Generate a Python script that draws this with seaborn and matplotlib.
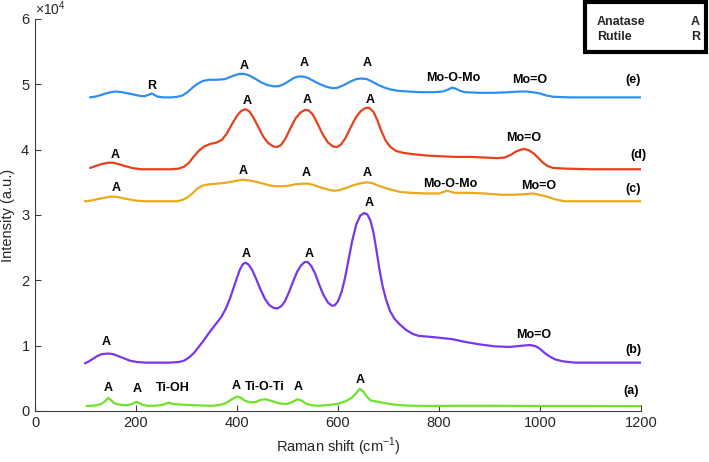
import numpy as np
import pandas as pd
import matplotlib.pyplot as plt
import seaborn as sns
from matplotlib.ticker import ScalarFormatter
from matplotlib.patches import Rectangle

# Raman spectra (intensity in units of 1e4)
x_a = [102, 112, 122, 132, 140, 145, 150, 157, 165, 175, 185, 193, 200, 205, 212, 222,
       235, 250, 258, 265, 272, 285, 310, 330, 350, 365, 378, 390, 399, 406, 415, 426,
       438, 447, 456, 466, 478, 490, 500, 510, 520, 528, 537, 548, 560, 580, 600, 615,
       627, 636, 643, 650, 657, 665, 680, 700, 720, 750, 784, 837, 900, 1000, 1200]
y_a = [0.077, 0.08, 0.09, 0.11, 0.16, 0.20, 0.17, 0.12, 0.10, 0.09, 0.09, 0.11, 0.14, 0.13, 0.10, 0.08,
       0.08, 0.09, 0.11, 0.13, 0.11, 0.10, 0.09, 0.085, 0.08, 0.09, 0.12, 0.18, 0.22, 0.21, 0.16, 0.13,
       0.14, 0.17, 0.18, 0.16, 0.13, 0.11, 0.11, 0.14, 0.18, 0.16, 0.11, 0.09, 0.08, 0.09, 0.11, 0.15,
       0.20, 0.27, 0.34, 0.30, 0.22, 0.16, 0.14, 0.11, 0.09, 0.08, 0.077, 0.08, 0.08, 0.077, 0.075]

x_b = [99, 107, 115, 123, 132, 145, 155, 165, 175, 188, 202, 220, 240, 265, 285, 295,
       305, 315, 324, 335, 345, 357, 369, 378, 386, 393, 400, 406, 412, 417, 423, 430,
       438, 446, 455, 464, 472, 480, 487, 495, 503, 511, 519, 527, 534, 540, 547, 555,
       563, 571, 580, 588, 594, 600, 607, 614, 621, 628, 636, 644, 652, 658, 664, 670,
       676, 682, 688, 695, 703, 712, 723, 735, 748, 760, 790, 826, 850, 880, 910, 940,
       965, 980, 992, 1000, 1009, 1018, 1030, 1045, 1070, 1100, 1200]
y_b = [0.73, 0.76, 0.80, 0.84, 0.87, 0.88, 0.87, 0.84, 0.81, 0.77, 0.75, 0.74, 0.74, 0.74, 0.75, 0.77,
       0.82, 0.89, 0.98, 1.09, 1.20, 1.32, 1.44, 1.57, 1.72, 1.88, 2.04, 2.17, 2.25, 2.27, 2.24, 2.16,
       2.02, 1.87, 1.72, 1.62, 1.58, 1.57, 1.60, 1.68, 1.82, 1.98, 2.13, 2.23, 2.28, 2.28, 2.22, 2.10,
       1.93, 1.78, 1.66, 1.61, 1.62, 1.68, 1.82, 2.04, 2.32, 2.60, 2.85, 2.99, 3.03, 3.01, 2.92, 2.74,
       2.47, 2.17, 1.92, 1.71, 1.53, 1.41, 1.32, 1.24, 1.18, 1.15, 1.13, 1.10, 1.06, 1.02, 0.99, 0.98,
       1.00, 1.01, 0.99, 0.95, 0.89, 0.84, 0.79, 0.76, 0.74, 0.74, 0.74]

x_c = [99, 110, 122, 135, 148, 160, 172, 185, 200, 220, 250, 280, 292, 302, 313, 322,
       332, 345, 360, 375, 390, 403, 412, 423, 437, 452, 466, 478, 490, 503, 516, 530,
       540, 552, 566, 580, 592, 602, 615, 628, 642, 655, 667, 680, 695, 709, 725, 745,
       775, 800, 808, 815, 822, 830, 855, 890, 921, 950, 970, 986, 998, 1010, 1022, 1035,
       1050, 1100, 1200]
y_c = [3.21, 3.22, 3.24, 3.26, 3.28, 3.28, 3.26, 3.24, 3.22, 3.21, 3.21, 3.21, 3.23, 3.27, 3.34, 3.41,
       3.45, 3.47, 3.48, 3.49, 3.51, 3.53, 3.54, 3.53, 3.51, 3.48, 3.45, 3.44, 3.44, 3.45, 3.47, 3.48,
       3.48, 3.46, 3.42, 3.39, 3.37, 3.38, 3.41, 3.45, 3.48, 3.50, 3.49, 3.45, 3.41, 3.38, 3.35, 3.34,
       3.33, 3.33, 3.35, 3.37, 3.36, 3.34, 3.34, 3.33, 3.31, 3.31, 3.32, 3.33, 3.31, 3.29, 3.26, 3.23,
       3.21, 3.21, 3.21]

x_d = [109, 120, 132, 145, 155, 165, 178, 192, 210, 240, 270, 285, 295, 305, 315, 324,
       335, 348, 360, 370, 380, 390, 400, 408, 416, 424, 432, 442, 452, 462, 472, 479,
       487, 496, 506, 516, 526, 535, 542, 550, 560, 570, 580, 590, 598, 606, 615, 625,
       635, 645, 655, 662, 670, 678, 686, 695, 704, 715, 730, 750, 775, 800, 830, 860,
       890, 915, 930, 942, 952, 962, 970, 978, 988, 997, 1006, 1015, 1026, 1050, 1100, 1200]
y_d = [3.72, 3.75, 3.78, 3.80, 3.80, 3.78, 3.75, 3.72, 3.70, 3.70, 3.70, 3.71, 3.74, 3.80, 3.90, 3.98,
       4.05, 4.09, 4.11, 4.15, 4.25, 4.39, 4.52, 4.59, 4.62, 4.59, 4.50, 4.35, 4.20, 4.10, 4.05, 4.04,
       4.07, 4.17, 4.33, 4.48, 4.57, 4.61, 4.60, 4.54, 4.39, 4.23, 4.11, 4.05, 4.04, 4.08, 4.18, 4.34,
       4.49, 4.59, 4.64, 4.64, 4.58, 4.45, 4.28, 4.13, 4.04, 3.98, 3.95, 3.93, 3.91, 3.90, 3.89, 3.89,
       3.88, 3.87, 3.88, 3.92, 3.97, 4.00, 4.01, 3.99, 3.94, 3.87, 3.80, 3.75, 3.72, 3.71, 3.70, 3.70]

x_e = [109, 118, 128, 140, 150, 160, 172, 185, 198, 210, 218, 225, 231, 236, 243, 255,
       270, 282, 292, 302, 312, 322, 332, 345, 360, 376, 386, 396, 405, 414, 423, 435,
       448, 460, 472, 482, 492, 503, 513, 522, 530, 540, 552, 565, 578, 590, 600, 612,
       624, 636, 647, 657, 668, 680, 692, 705, 720, 740, 762, 790, 808, 818, 826, 834,
       842, 851, 880, 910, 940, 960, 973, 985, 1000, 1012, 1026, 1060, 1200]
y_e = [4.80, 4.81, 4.83, 4.86, 4.88, 4.89, 4.88, 4.86, 4.84, 4.82, 4.82, 4.84, 4.86, 4.84, 4.81, 4.80,
       4.80, 4.81, 4.83, 4.88, 4.95, 5.01, 5.05, 5.07, 5.07, 5.08, 5.11, 5.14, 5.16, 5.16, 5.14, 5.09,
       5.03, 4.99, 4.97, 4.97, 5.00, 5.05, 5.10, 5.12, 5.12, 5.10, 5.05, 5.00, 4.96, 4.94, 4.95, 4.99,
       5.04, 5.08, 5.09, 5.08, 5.04, 4.99, 4.95, 4.92, 4.90, 4.89, 4.88, 4.88, 4.89, 4.92, 4.95, 4.93,
       4.90, 4.88, 4.87, 4.87, 4.88, 4.89, 4.89, 4.88, 4.86, 4.83, 4.81, 4.80, 4.80]

samples = ["a", "b", "c", "d", "e"]
colors = ["#6fe22c", "#7a35ee", "#eba91b", "#e8401c", "#2f8ef2"]

# peak annotations: (text, x, y in 1e4)
labels_a = [("A", 145, 0.35), ("A", 203, 0.33), ("Ti-OH", 273, 0.35), ("A", 399, 0.38),
            ("Ti-O-Ti", 455, 0.36), ("A", 521, 0.36), ("A", 644, 0.47), ("(a)", 1180, 0.31)]
labels_b = [("A", 141, 1.05), ("A", 419, 2.41), ("A", 542, 2.41), ("A", 661, 3.19),
            ("Mo=O", 987, 1.16), ("(b)", 1185, 0.93)]
labels_c = [("A", 160, 3.42), ("A", 412, 3.67), ("A", 537, 3.65), ("A", 658, 3.65),
            ("Mo-O-Mo", 822, 3.48), ("Mo=O", 997, 3.45), ("(c)", 1185, 3.40)]
labels_d = [("A", 158, 3.92), ("A", 420, 4.74), ("A", 539, 4.76), ("A", 663, 4.76),
            ("Mo=O", 967, 4.18), ("(d)", 1195, 3.92)]
labels_e = [("R", 231, 4.98), ("A", 414, 5.28), ("A", 534, 5.32), ("A", 658, 5.32),
            ("Mo-O-Mo", 828, 5.09), ("Mo=O", 980, 5.07), ("(e)", 1184, 5.07)]

frames = []
for s, xs, ys in zip(samples, [x_a, x_b, x_c, x_d, x_e], [y_a, y_b, y_c, y_d, y_e]):
    frames.append(pd.DataFrame({"shift": xs, "intensity": np.array(ys) * 1e4, "sample": s}))
df = pd.concat(frames, ignore_index=True)

sns.set_style("ticks")
plt.rcParams["font.family"] = ["Liberation Sans", "DejaVu Sans"]
plt.rcParams["mathtext.fontset"] = "custom"
plt.rcParams["mathtext.rm"] = "Liberation Sans"

fig = plt.figure(figsize=(7.09, 4.62), dpi=100)
ax = fig.add_axes([35 / 709, 51 / 462, 606 / 709, 392 / 462])

sns.lineplot(data=df, x="shift", y="intensity", hue="sample", palette=colors,
             sort=False, estimator=None, legend=False, linewidth=1.6, ax=ax)

for lab in [labels_a, labels_b, labels_c, labels_d, labels_e]:
    for t, x, y in lab:
        ax.text(x, y * 1e4, t, ha="center", va="center", fontsize=9,
                fontweight="bold", color="black")

ax.set_xlim(0, 1200)
ax.set_ylim(0, 6e4)
ax.set_xticks([0, 200, 400, 600, 800, 1000, 1200])
ax.set_yticks([0, 1e4, 2e4, 3e4, 4e4, 5e4, 6e4])
fmt = ScalarFormatter(useMathText=True)
fmt.set_powerlimits((0, 0))
ax.yaxis.set_major_formatter(fmt)
ax.yaxis.get_offset_text().set_fontsize(10)
ax.yaxis.get_offset_text().set_color("#404040")

ax.tick_params(direction="in", length=4, width=0.8, colors="#404040",
               labelsize=10.5, labelcolor="#262626")
for side in ["left", "bottom"]:
    ax.spines[side].set_color("#404040")
    ax.spines[side].set_linewidth(0.8)
sns.despine(ax=ax)

ax.set_xlabel("Raman shift (cm$^{-1}$)", fontsize=10.5, color="#262626")
ax.set_ylabel("Intensity (a.u.)", fontsize=10.5, color="#262626")

# phase key box in the top-right corner
fig.patches.append(Rectangle((585 / 709, 410 / 462), 121 / 709, 50 / 462,
                             transform=fig.transFigure, fill=False,
                             edgecolor="black", linewidth=3))
fig.text(597 / 709, 1 - 22 / 462, "Anatase", fontsize=9, fontweight="bold", va="center")
fig.text(700 / 709, 1 - 22 / 462, "A", fontsize=9, fontweight="bold", va="center", ha="right")
fig.text(597 / 709, 1 - 37 / 462, "Rutile", fontsize=9, fontweight="bold", va="center")
fig.text(700 / 709, 1 - 37 / 462, "R", fontsize=9, fontweight="bold", va="center", ha="right")

fig.savefig("out.png", dpi=100)
